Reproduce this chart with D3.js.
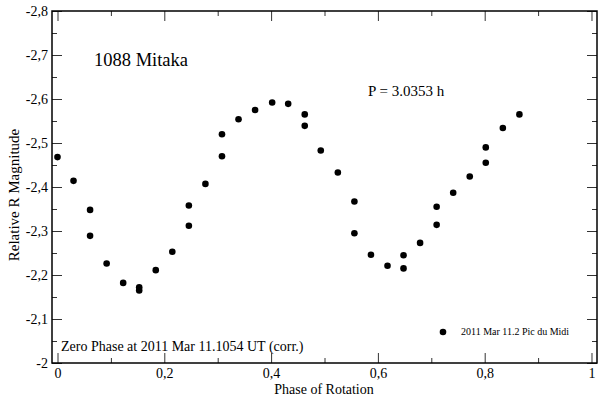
<!DOCTYPE html>
<html>
<head>
<meta charset="utf-8">
<script src="https://cdn.jsdelivr.net/npm/d3@7"></script>
<style>
body { margin: 0; background: white; }
svg { display: block; font-family: "Liberation Serif", "DejaVu Serif", serif; }
</style>
</head>
<body>
<svg id="chart" width="600" height="398"></svg>
<script>
// phase of rotation for every observation
var phase = [0, 0.030, 0.061, 0.061, 0.092, 0.123, 0.153, 0.153, 0.184, 0.215,
             0.246, 0.246, 0.277, 0.308, 0.308, 0.339, 0.370, 0.402, 0.432, 0.463,
             0.463, 0.493, 0.525, 0.556, 0.556, 0.587, 0.618, 0.648, 0.648, 0.679,
             0.710, 0.710, 0.741, 0.772, 0.802, 0.802, 0.834, 0.865]

// relative R magnitude for every observation
var magnitude = [-2.468, -2.414, -2.348, -2.289, -2.226, -2.182, -2.172, -2.165, -2.211, -2.253,
                 -2.358, -2.312, -2.407, -2.520, -2.470, -2.554, -2.575, -2.592, -2.589, -2.565,
                 -2.539, -2.483, -2.433, -2.367, -2.295, -2.246, -2.221, -2.245, -2.215, -2.273,
                 -2.314, -2.355, -2.387, -2.424, -2.455, -2.490, -2.534, -2.565]

// tick values
var xMajor = [0, 0.2, 0.4, 0.6, 0.8, 1]
var xMinor = [0.1, 0.3, 0.5, 0.7, 0.9]
var yMajor = [-2, -2.1, -2.2, -2.3, -2.4, -2.5, -2.6, -2.7, -2.8]
var yMinor = [-2.05, -2.15, -2.25, -2.35, -2.45, -2.55, -2.65, -2.75]

var svg = d3.select("#chart")

// frame of the plot
var plotLeft = 52, plotRight = 597, plotTop = 11, plotBottom = 363

var x = d3.scaleLinear().domain([-0.0103, 1.0103]).range([plotLeft, plotRight])
var y = d3.scaleLinear().domain([-2, -2.8]).range([plotBottom, plotTop])

// comma as decimal sign, plain hyphen as minus
function commaFormat(d) {
    return (+d.toFixed(2)).toString().replace(".", ",")
}

// draw an axis with inward ticks
function drawAxis(axis, tx, ty, showLabels) {
    var g = svg.append("g")
        .attr("transform", "translate(" + tx + "," + ty + ")")
        .call(axis)
    g.select(".domain").remove()
    g.selectAll(".tick line").attr("stroke", "#333").attr("stroke-width", 1)
    if (showLabels) {
        g.selectAll(".tick text")
            .style("font-size", "14px")
            .style("font-family", "Liberation Serif")
            .attr("fill", "black")
    } else {
        g.selectAll(".tick text").remove()
    }
    return g
}

// bottom axis
drawAxis(d3.axisBottom(x).tickValues(xMajor).tickSize(-10).tickPadding(5).tickFormat(commaFormat), 0, plotBottom, true)
drawAxis(d3.axisBottom(x).tickValues(xMinor).tickSize(-5), 0, plotBottom, false)
// top axis
drawAxis(d3.axisTop(x).tickValues(xMajor).tickSize(-10), 0, plotTop, false)
drawAxis(d3.axisTop(x).tickValues(xMinor).tickSize(-5), 0, plotTop, false)
// left axis
drawAxis(d3.axisLeft(y).tickValues(yMajor).tickSize(-10).tickPadding(4).tickFormat(commaFormat), plotLeft, 0, true)
drawAxis(d3.axisLeft(y).tickValues(yMinor).tickSize(-5), plotLeft, 0, false)
// right axis
drawAxis(d3.axisRight(y).tickValues(yMajor).tickSize(-10), plotRight, 0, false)
drawAxis(d3.axisRight(y).tickValues(yMinor).tickSize(-5), plotRight, 0, false)

// frame
svg.append("rect")
    .attr("x", plotLeft)
    .attr("y", plotTop)
    .attr("width", plotRight - plotLeft)
    .attr("height", plotBottom - plotTop)
    .attr("fill", "none")
    .attr("stroke", "black")
    .attr("stroke-width", 1.5)

// data points
svg.selectAll("circle.obs")
    .data(phase)
    .enter()
    .append("circle")
    .attr("class", "obs")
    .attr("cx", function(d) { return x(d) })
    .attr("cy", function(d, i) { return y(magnitude[i]) })
    .attr("r", 3.3)
    .attr("fill", "black")

// axis titles
svg.append("text")
    .attr("x", 324)
    .attr("y", 394)
    .attr("text-anchor", "middle")
    .style("font-size", "14px")
    .text("Phase of Rotation")

svg.append("text")
    .attr("transform", "translate(19,195) rotate(-90)")
    .attr("text-anchor", "middle")
    .style("font-size", "15px")
    .text("Relative R Magnitude")

// annotations
svg.append("text")
    .attr("x", 94)
    .attr("y", 66)
    .style("font-size", "18.5px")
    .text("1088 Mitaka")

svg.append("text")
    .attr("x", 368)
    .attr("y", 96)
    .style("font-size", "15px")
    .text("P = 3.0353 h")

svg.append("text")
    .attr("x", 61)
    .attr("y", 351)
    .style("font-size", "14px")
    .text("Zero Phase at 2011 Mar 11.1054 UT (corr.)")

// legend
svg.append("circle")
    .attr("cx", 443)
    .attr("cy", 332)
    .attr("r", 3.3)
    .attr("fill", "black")

svg.append("text")
    .attr("x", 461)
    .attr("y", 335)
    .style("font-size", "10px")
    .text("2011 Mar 11.2 Pic du Midi")
</script>
</body>
</html>
